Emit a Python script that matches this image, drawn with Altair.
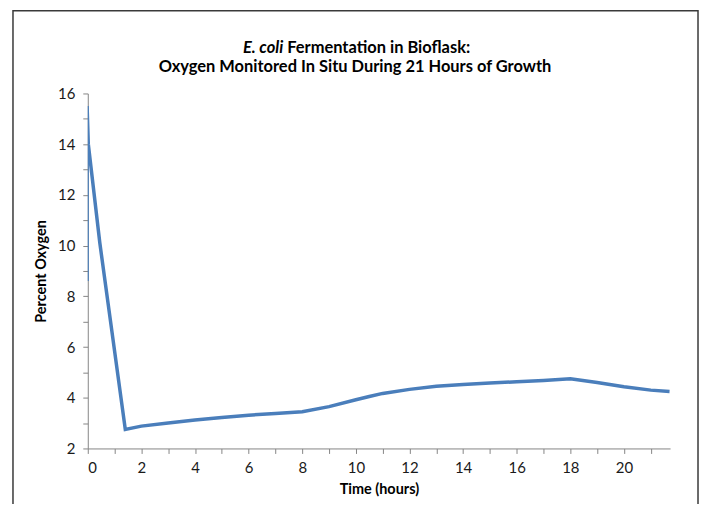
import altair as alt
import pandas as pd

# Data
time_hours = [-0.025, -0.025, 0.02, 0.45, 1.4, 2, 3, 4, 5, 6, 7, 8, 9, 10, 10.5, 11, 12, 13,
              14, 15, 16, 17, 18, 19, 20, 21, 21.7]
percent_oxygen = [8.6, 15.5, 14.0, 10.1, 2.75, 2.88, 3.0, 3.12, 3.22, 3.31, 3.38,
                  3.45, 3.65, 3.92, 4.05, 4.17, 4.33, 4.45, 4.52, 4.58, 4.63, 4.68,
                  4.75, 4.6, 4.43, 4.3, 4.25]

title_italic = "E. coli"
title_rest = "Fermentation in Bioflask:"
title_line2 = "Oxygen Monitored In Situ During 21 Hours of Growth"

df = pd.DataFrame({"t": time_hours, "o2": percent_oxygen, "i": list(range(len(time_hours)))})

FONT = "Lato"
AXIS_GRAY = "#868686"

x_ticks = list(range(0, 22))
y_ticks = list(range(2, 17))

line = alt.Chart(df).mark_line(color="#4A7EBB", strokeWidth=3.5, clip=True).encode(
    x=alt.X("t:Q", scale=alt.Scale(domain=[0, 21.72], nice=False, zero=False),
            axis=alt.Axis(title="Time (hours)", values=x_ticks,
                          labelExpr="datum.value % 2 == 0 ? datum.label : ''",
                          grid=False, tickSize=5, labelPadding=7, titlePadding=7)),
    y=alt.Y("o2:Q", scale=alt.Scale(domain=[2, 16], nice=False, zero=False),
            axis=alt.Axis(title="Percent Oxygen", values=y_ticks,
                          labelExpr="datum.value % 2 == 0 ? datum.label : ''",
                          grid=False, tickSize=5, labelPadding=8, titlePadding=9)),
    order="i:Q",
)

one = pd.DataFrame({"a": [0]})

border = alt.Chart(one).mark_rect(fill=None, stroke="#3a3a3a", strokeWidth=1.5).encode(
    x=alt.value(-75), x2=alt.value(612), y=alt.value(-83), y2=alt.value(470)
)

t1a = alt.Chart(one).mark_text(text=title_italic, font=FONT, fontSize=16.5, fontWeight="bold",
                               fontStyle="italic", align="right", baseline="middle",
                               color="#000000").encode(x=alt.value(196), y=alt.value(-46))
t1b = alt.Chart(one).mark_text(text=title_rest, font=FONT, fontSize=16.5, fontWeight="bold",
                               align="left", baseline="middle",
                               color="#000000").encode(x=alt.value(200), y=alt.value(-46))
t2 = alt.Chart(one).mark_text(text=title_line2, font=FONT, fontSize=16.5, fontWeight="bold",
                              align="center", baseline="middle",
                              color="#000000").encode(x=alt.value(268), y=alt.value(-27))

chart = alt.layer(border, line, t1a, t1b, t2).properties(
    width=584, height=356,
    autosize=alt.AutoSizeParams(type="none"),
    padding={"left": 80, "top": 85, "right": 30, "bottom": 55},
).configure_view(stroke=None).configure_axis(
    domainColor=AXIS_GRAY, tickColor=AXIS_GRAY, labelFont=FONT, titleFont=FONT,
    labelFontSize=15, titleFontSize=14.5, labelColor="#1a1a1a", titleColor="#000000",
    titleFontWeight="bold",
)

chart.save("out.html", embed_options={"renderer": "svg", "actions": False})
